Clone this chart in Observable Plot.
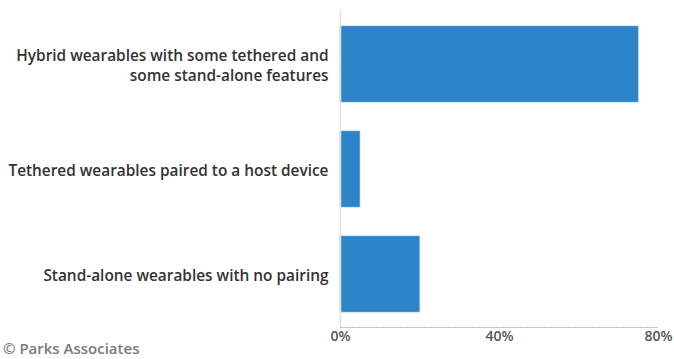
<!DOCTYPE html>
<html><head><meta charset="utf-8">
<script src="https://cdn.jsdelivr.net/npm/d3@7"></script>
<script src="https://cdn.jsdelivr.net/npm/@observablehq/plot@0.6"></script>
<style>
body{margin:0;background:#fff;}
#wrap{position:relative;width:674px;height:359px;}
#cap{position:absolute;left:3px;top:338px;font:600 15px "Open Sans";color:#7a7a7a;white-space:nowrap;}
</style>
</head><body>
<div id="wrap"><div id="cap">© Parks Associates</div></div>
<script>
const categories = [
  "Hybrid wearables with some tethered and\nsome stand-alone features",
  "Tethered wearables paired to a host device",
  "Stand-alone wearables with no pairing"
];
const values = [0.75, 0.05, 0.20];
const xTicks = [0, 0.4, 0.8];
const xTickLabels = ["0%", "40%", "80%"];

const data = categories.map((c, i) => ({category: c, value: values[i]}));

const chart = Plot.plot({
  width: 674, height: 359,
  marginLeft: 340, marginRight: 16, marginTop: 10, marginBottom: 32,
  style: {fontFamily: "Open Sans", background: "white"},
  x: {domain: [0, 0.8], label: null},
  y: {domain: categories, paddingInner: 0.28, paddingOuter: 0.136, label: null},
  marks: [
    Plot.barX(data, {x: "value", y: "category", fill: "#2d84c8", stroke: "#6aaee0", strokeWidth: 0.6}),
    Plot.ruleX([0], {stroke: "#e2e2e2", strokeWidth: 1.5}),
    Plot.frame({anchor: "bottom", stroke: "#bcbcbc", strokeDasharray: "1.5,1.5"}),
    Plot.axisY({tickSize: 0, tickPadding: 12, fontSize: 15.4, fontWeight: 600, color: "#333", lineHeight: 1.3, label: null}),
    Plot.axisX({ticks: xTicks, tickFormat: d => xTickLabels[xTicks.indexOf(d)], tickSize: 0, tickPadding: 4, fontSize: 14, fontWeight: 600, color: "#555", label: null})
  ]
});
document.getElementById("wrap").prepend(chart);
</script>
</body></html>
